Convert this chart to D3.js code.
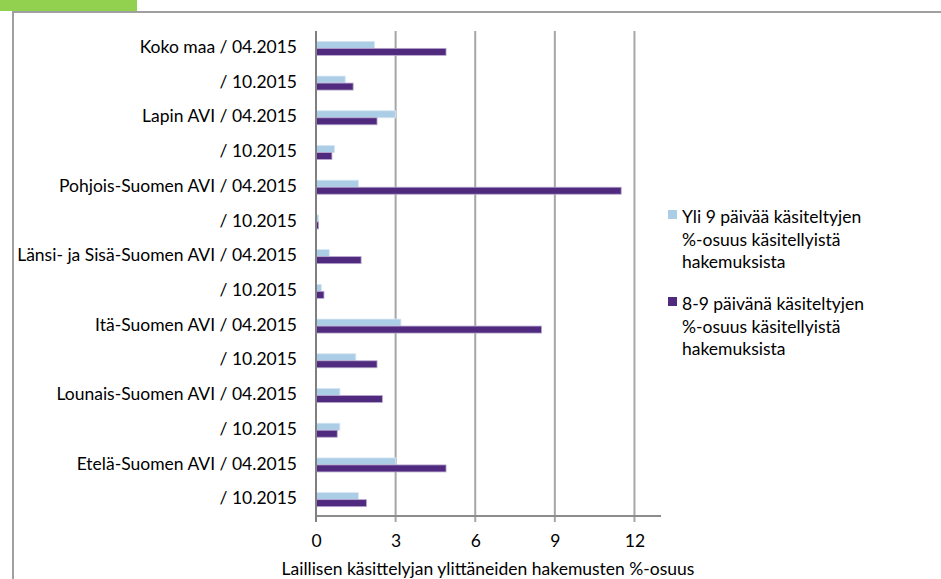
<!DOCTYPE html>
<html><head><meta charset="utf-8">
<script src="https://cdn.jsdelivr.net/npm/d3@7"></script>
<style>
html,body{margin:0;padding:0;background:#fff;overflow:hidden;}
svg{display:block;font-family:Lato,"Liberation Sans",sans-serif;}
</style></head>
<body>
<svg id="c" width="941" height="579"></svg>
<script>
const categories = [
  "Koko maa / 04.2015", "/ 10.2015",
  "Lapin AVI / 04.2015", "/ 10.2015",
  "Pohjois-Suomen AVI / 04.2015", "/ 10.2015",
  "Länsi- ja Sisä-Suomen AVI / 04.2015", "/ 10.2015",
  "Itä-Suomen AVI / 04.2015", "/ 10.2015",
  "Lounais-Suomen AVI / 04.2015", "/ 10.2015",
  "Etelä-Suomen AVI / 04.2015", "/ 10.2015"
];
const over9 = [2.2, 1.1, 3.0, 0.7, 1.6, 0.1, 0.5, 0.2, 3.2, 1.5, 0.9, 0.9, 3.0, 1.6];
const days89 = [4.9, 1.4, 2.3, 0.6, 11.5, 0.1, 1.7, 0.3, 8.5, 2.3, 2.5, 0.8, 4.9, 1.9];
const seriesNames = [
  ["Yli 9 päivää käsiteltyjen", "%-osuus käsitellyistä", "hakemuksista"],
  ["8-9 päivänä käsiteltyjen", "%-osuus käsitellyistä", "hakemuksista"]
];
const xTicks = [0, 3, 6, 9, 12];
const xTitle = "Laillisen käsittelyjan ylittäneiden hakemusten %-osuus";

const svg = d3.select("#c");
const colors = ["#abcde6", "#4f2a7e"];
const strokes = ["#d6e7f3", "#b8a8cf"];
const FS = 17.5;

// frame decorations
svg.append("rect").attr("x", 0).attr("y", 0).attr("width", 137).attr("height", 11).attr("fill", "#92d050");
svg.append("line").attr("x1", 12).attr("x2", 941).attr("y1", 12).attr("y2", 12).attr("stroke", "#a0a0a0").attr("stroke-width", 2);
svg.append("line").attr("x1", 13).attr("x2", 13).attr("y1", 12).attr("y2", 579).attr("stroke", "#a0a0a0").attr("stroke-width", 2);

const x = d3.scaleLinear().domain([0, 13]).range([316, 661]);
const y = d3.scaleBand().domain(d3.range(categories.length)).range([31, 517]);
const plotTop = 31, plotBottom = 516;
const barH = 7;

// gridlines
const g = svg.append("g");
g.selectAll("line.grid").data(xTicks.filter(d => d > 0)).join("line")
  .attr("x1", d => x(d)).attr("x2", d => x(d))
  .attr("y1", plotTop).attr("y2", plotBottom + 6)
  .attr("stroke", "#a6a6a6").attr("stroke-width", 2);

// bars
const series = [over9, days89];
series.forEach((vals, si) => {
  g.selectAll("rect.s" + si).data(vals).join("rect")
    .attr("x", x(0))
    .attr("y", (d, i) => y(i) + y.bandwidth() / 2 - barH + si * barH)
    .attr("width", d => x(d) - x(0))
    .attr("height", barH)
    .attr("fill", colors[si])
    .attr("stroke", strokes[si]).attr("stroke-width", 0.8);
});

// axes lines
g.append("line").attr("x1", x(0)).attr("x2", 661).attr("y1", plotBottom).attr("y2", plotBottom)
  .attr("stroke", "#8c8c8c").attr("stroke-width", 2);
g.append("line").attr("x1", x(0)).attr("x2", x(0)).attr("y1", plotTop).attr("y2", plotBottom + 6)
  .attr("stroke", "#808080").attr("stroke-width", 2);

// x tick labels
const xAxis = d3.axisBottom(x).tickValues(xTicks).tickSize(0).tickPadding(0).tickFormat(d3.format("d"));
const xa = svg.append("g").attr("transform", `translate(0,${plotBottom + 19})`).call(xAxis);
xa.select(".domain").remove();
xa.selectAll("text").attr("font-size", FS).attr("fill", "#000").attr("font-family", "Lato");

// y labels
const yAxis = d3.axisLeft(y).tickSize(0).tickPadding(0).tickFormat(i => categories[i]);
const ya = svg.append("g").attr("transform", `translate(297,-1)`).call(yAxis);
ya.select(".domain").remove();
ya.selectAll("text").attr("font-size", FS).attr("fill", "#000").attr("font-family", "Lato");

// axis title
svg.append("text").attr("x", 488).attr("y", 575).attr("text-anchor", "middle")
  .attr("font-size", FS).attr("fill", "#000").text(xTitle);

// legend
const legTops = [210, 297];
seriesNames.forEach((lines, si) => {
  svg.append("rect").attr("x", 668).attr("y", legTops[si]).attr("width", 9).attr("height", 9).attr("fill", colors[si]);
  lines.forEach((t, li) => {
    svg.append("text").attr("x", 682).attr("y", legTops[si] + 13 + li * 22.5)
      .attr("font-size", FS).attr("fill", "#000").text(t);
  });
});
</script>
</body></html>
